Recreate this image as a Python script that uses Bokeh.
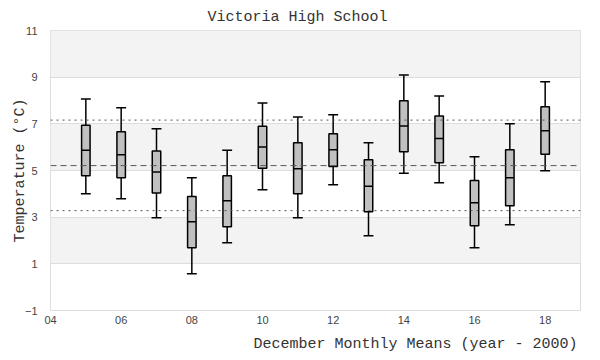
from bokeh.plotting import figure
from bokeh.models import FixedTicker, Span, Title, Range1d
from bokeh.embed import file_html
from bokeh.resources import INLINE

# ---- data ----
years = [5, 6, 7, 8, 9, 10, 11, 12, 13, 14, 15, 16, 17, 18]
whisk_lo = [4.00, 3.79, 2.97, 0.57, 1.90, 4.17, 2.97, 4.39, 2.20, 4.88, 4.47, 1.69, 2.67, 4.99]
q1 = [4.77, 4.69, 4.04, 1.69, 2.59, 5.10, 4.00, 5.17, 3.23, 5.80, 5.33, 2.63, 3.49, 5.70]
med = [5.87, 5.67, 4.94, 2.80, 3.70, 6.01, 5.07, 5.89, 4.33, 6.91, 6.37, 3.62, 4.69, 6.70]
q3 = [6.94, 6.66, 5.84, 3.89, 4.77, 6.90, 6.19, 6.57, 5.46, 7.99, 7.34, 4.57, 5.89, 7.73]
whisk_hi = [8.06, 7.69, 6.79, 4.69, 5.87, 7.89, 7.29, 7.39, 6.19, 9.09, 8.19, 5.59, 7.00, 8.80]

mean_val = 5.21
upper_val = 7.16
lower_val = 3.28

x_ticks = [4, 6, 8, 10, 12, 14, 16, 18]
x_tick_labels = ["04", "06", "08", "10", "12", "14", "16", "18"]
y_ticks = [-1, 1, 3, 5, 7, 9, 11]

BOX_W = 0.24
CAP_HALF = 0.14

p = figure(width=600, height=360, output_backend="svg", toolbar_location=None,
           x_range=Range1d(4, 19), y_range=Range1d(-1, 11),
           min_border_left=50, min_border_right=20, min_border_top=30, min_border_bottom=50)

p.title.text = "Victoria High School"
p.title.text_font = "Liberation Mono"
p.title.text_font_size = "15px"
p.title.text_font_style = "normal"
p.title.text_color = "#333333"
p.title.align = "left"
p.title.offset = 157
p.title.standoff = 10

p.background_fill_color = "white"
p.border_fill_color = "white"
p.outline_line_color = "#dddddd"
p.outline_line_width = 1

# grid
p.xgrid.grid_line_color = None
p.ygrid.ticker = FixedTicker(ticks=y_ticks)
p.ygrid.grid_line_color = "#dddddd"
p.ygrid.band_fill_color = "#f3f3f3"
p.ygrid.band_fill_alpha = 1.0

# axes
p.xaxis.ticker = FixedTicker(ticks=x_ticks)
p.xaxis.major_label_overrides = {t: l for t, l in zip(x_ticks, x_tick_labels)}
p.yaxis.ticker = FixedTicker(ticks=y_ticks)
for ax in (p.xaxis, p.yaxis):
    ax.axis_line_color = None
    ax.major_tick_line_color = None
    ax.minor_tick_line_color = None
    ax.major_tick_out = 0
    ax.major_tick_in = 0
    ax.major_label_text_font = "Liberation Sans"
    ax.major_label_text_font_size = "11px"
    ax.major_label_text_color = "#444444"
p.xaxis.major_label_standoff = 5
p.yaxis.major_label_standoff = 13

p.yaxis.axis_label = "Temperature (°C)"
p.yaxis.axis_label_text_font = "Liberation Mono"
p.yaxis.axis_label_text_font_size = "15px"
p.yaxis.axis_label_text_font_style = "normal"
p.yaxis.axis_label_text_color = "#333333"
p.yaxis.axis_label_standoff = -7

xt = Title(text="December Monthly Means (year - 2000)", align="right",
           text_font="Liberation Mono", text_font_size="15px", text_font_style="normal",
           text_color="#333333", offset=3, standoff=15)
p.add_layout(xt, "below")

# reference lines
p.add_layout(Span(location=upper_val, dimension="width", line_color="#555555",
                  line_dash="2 4", line_width=1))
p.add_layout(Span(location=mean_val, dimension="width", line_color="#555555",
                  line_dash="6 4", line_width=1))
p.add_layout(Span(location=lower_val, dimension="width", line_color="#555555",
                  line_dash="2 4", line_width=1))

# whiskers
p.segment(x0=years, y0=q3, x1=years, y1=whisk_hi, line_color="black", line_width=1.5)
p.segment(x0=years, y0=q1, x1=years, y1=whisk_lo, line_color="black", line_width=1.5)
xl = [y - CAP_HALF for y in years]
xr = [y + CAP_HALF for y in years]
p.segment(x0=xl, y0=whisk_hi, x1=xr, y1=whisk_hi, line_color="black", line_width=1.5)
p.segment(x0=xl, y0=whisk_lo, x1=xr, y1=whisk_lo, line_color="black", line_width=1.5)

# boxes
p.vbar(x=years, bottom=q1, top=q3, width=BOX_W, fill_color="#c0c0c0",
       line_color="black", line_width=1.5)
ml = [y - BOX_W / 2 for y in years]
mr = [y + BOX_W / 2 for y in years]
p.segment(x0=ml, y0=med, x1=mr, y1=med, line_color="black", line_width=1.5)

open("out.html", "w").write(file_html(p, INLINE))
